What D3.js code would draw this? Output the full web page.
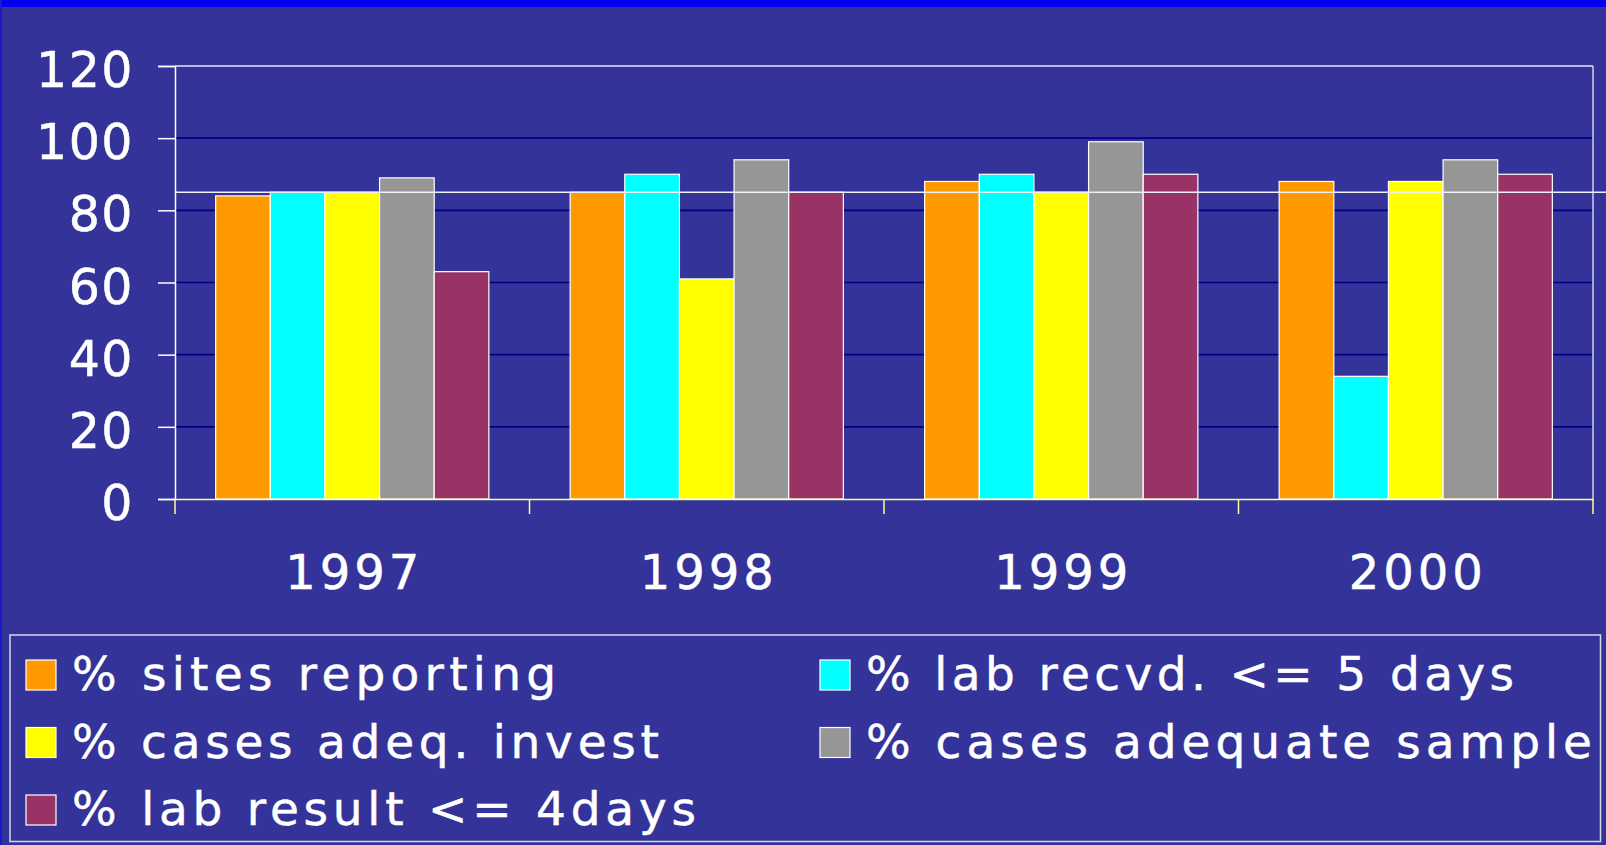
<!DOCTYPE html>
<html>
<head>
<meta charset="utf-8">
<script src="https://cdn.jsdelivr.net/npm/d3@7"></script>
<style>
  html, body { margin: 0; padding: 0; background: #333399; overflow: hidden; }
  svg { display: block; }
  text { font-family: "DejaVu Sans", Verdana, sans-serif; fill: #FFFFFF; }
</style>
</head>
<body>
<svg id="chart" width="1606" height="845"></svg>
<script>
// ---- data ----
const years = ["1997", "1998", "1999", "2000"];
const seriesNames = [
  "% sites reporting",
  "% lab recvd. <= 5 days",
  "% cases adeq. invest",
  "% cases adequate sample",
  "% lab result <= 4days"
];
const sitesReporting   = [84, 85, 88, 88];
const labRecvd5Days    = [85, 90, 90, 34];
const casesAdeqInvest  = [85, 61, 85, 88];
const casesAdeqSample  = [89, 94, 99, 94];
const labResult4Days   = [63, 85, 90, 90];
const seriesColors = ["#FF9900", "#00FFFF", "#FFFF00", "#969696", "#993366"];
const yTicks = [0, 20, 40, 60, 80, 100, 120];
const targetValue = 85;

const seriesValues = [sitesReporting, labRecvd5Days, casesAdeqInvest, casesAdeqSample, labResult4Days];

// ---- layout ----
const svg = d3.select("#chart");
const W = 1606, H = 845;
const plot = { left: 175, right: 1593, top: 66, bottom: 499 };

svg.append("rect").attr("x", 0).attr("y", 0).attr("width", W).attr("height", H).attr("fill", "#333399");
svg.append("rect").attr("x", 0).attr("y", 0).attr("width", W).attr("height", 7).attr("fill", "#0000EE");
svg.append("rect").attr("x", 0).attr("y", 0).attr("width", 2).attr("height", H).attr("fill", "#1A1ACC");

const x0 = d3.scaleBand().domain(years).range([plot.left, plot.right]).paddingInner(0).paddingOuter(0);
const x1 = d3.scaleBand().domain(d3.range(seriesNames.length)).range([0, x0.bandwidth()])
  .paddingInner(0).paddingOuter(0.744);
const y = d3.scaleLinear().domain([0, 120]).range([plot.bottom, plot.top]);

// gridlines
svg.append("g").selectAll("line").data(yTicks.filter(t => t > 0 && t < 120)).join("line")
  .attr("x1", plot.left).attr("x2", plot.right)
  .attr("y1", d => y(d)).attr("y2", d => y(d))
  .attr("stroke", "#000080").attr("stroke-width", 1.6);

// plot frame (top & right)
svg.append("line").attr("x1", plot.left).attr("x2", plot.right).attr("y1", plot.top).attr("y2", plot.top)
  .attr("stroke", "#E8E8F0").attr("stroke-width", 1.3);
svg.append("line").attr("x1", plot.right).attr("x2", plot.right).attr("y1", plot.top).attr("y2", plot.bottom)
  .attr("stroke", "#E8E8F0").attr("stroke-width", 1.3);

// bars
const groups = svg.append("g").selectAll("g").data(years).join("g")
  .attr("transform", d => `translate(${x0(d)},0)`);
groups.selectAll("rect").data((yr, i) => seriesValues.map((vals, s) => ({ s, v: vals[i] }))).join("rect")
  .attr("x", d => x1(d.s))
  .attr("width", x1.bandwidth())
  .attr("y", d => y(d.v))
  .attr("height", d => y(0) - y(d.v))
  .attr("fill", d => seriesColors[d.s])
  .attr("stroke", "#FFFFFF").attr("stroke-width", 1.2);

// target line
svg.append("line").attr("x1", plot.left).attr("x2", W).attr("y1", y(targetValue)).attr("y2", y(targetValue))
  .attr("stroke", "#F0F0F8").attr("stroke-width", 1.5);

// y axis
const yAxis = d3.axisLeft(y).tickValues(yTicks).tickSize(17).tickPadding(24).tickFormat(d3.format("d"));
const gy = svg.append("g").attr("transform", `translate(${plot.left},0)`).call(yAxis);
gy.select(".domain").attr("stroke", "#FFFFFF").attr("stroke-width", 1.5);
gy.selectAll(".tick line").attr("stroke", "#FFFFFF").attr("stroke-width", 1.5);
gy.selectAll(".tick text")
  .attr("fill", "#FFFFFF").style("font-size", "49px").style("font-family", "DejaVu Sans, sans-serif")
  .style("letter-spacing", "1.5px").attr("dy", "0.42em")
  .attr("stroke", "#FFFFFF").attr("stroke-width", 0.5);

// x axis
const xAxis = d3.axisBottom(x0).tickSize(0).tickPadding(56);
const gx = svg.append("g").attr("transform", `translate(0,${plot.bottom})`).call(xAxis);
gx.select(".domain").attr("stroke", "#FFFF99").attr("stroke-width", 1.5);
gx.selectAll(".tick text")
  .attr("fill", "#FFFFFF").style("font-size", "48px").style("font-family", "DejaVu Sans, sans-serif")
  .style("letter-spacing", "4px").attr("dx", "2px").attr("dy", "0.71em")
  .attr("stroke", "#FFFFFF").attr("stroke-width", 0.5);
// category separators
const seps = years.map(yr => x0(yr)).concat([plot.right]);
svg.append("g").selectAll("line").data(seps).join("line")
  .attr("x1", d => d).attr("x2", d => d).attr("y1", plot.bottom).attr("y2", plot.bottom + 15)
  .attr("stroke", "#FFFF99").attr("stroke-width", 1.5);

// legend
svg.append("rect").attr("x", 10).attr("y", 635).attr("width", 1590.5).attr("height", 206.5)
  .attr("fill", "none").attr("stroke", "#D8D8E8").attr("stroke-width", 1.5);
const legendPos = [
  { x: 26, y: 690 }, { x: 820, y: 690 },
  { x: 26, y: 757.5 }, { x: 820, y: 757.5 },
  { x: 26, y: 825 }
];
const legendTextWidth = [484, 648, 587, 726, 624];
const lg = svg.append("g").selectAll("g").data(seriesNames).join("g")
  .attr("transform", (d, i) => `translate(${legendPos[i].x},${legendPos[i].y})`);
lg.append("rect").attr("x", 0).attr("y", -30).attr("width", 30).attr("height", 30)
  .attr("fill", (d, i) => seriesColors[i]).attr("stroke", "#FFFFFF").attr("stroke-width", 1.2);
lg.append("text").attr("x", 46).attr("y", 0)
  .style("font-size", "47px")
  .attr("textLength", (d, i) => legendTextWidth[i]).attr("lengthAdjust", "spacing")
  .attr("stroke", "#FFFFFF").attr("stroke-width", 0.5)
  .text(d => d);
</script>
</body>
</html>
